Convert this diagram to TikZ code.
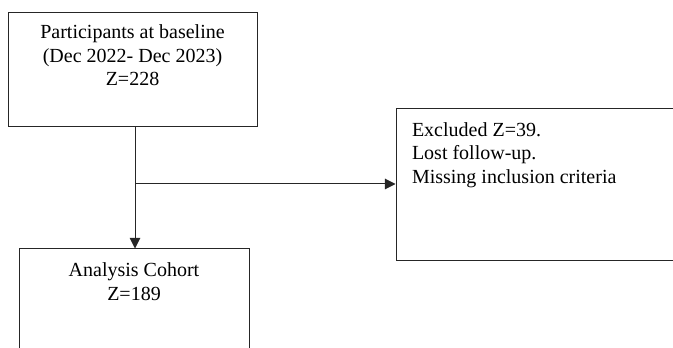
\documentclass[tikz,border=0pt]{standalone}
\usepackage{fontspec}
\setmainfont{Liberation Serif}
\usetikzlibrary{positioning,arrows.meta}
\begin{document}
\begin{tikzpicture}[x=0.75pt,y=-0.75pt,draw=black!85,line width=0.75pt]
	\tikzstyle{box}=[rectangle,draw=black!85,line width=0.75pt,inner sep=0pt]
	\tikzstyle{txt}=[inner sep=0pt,font=\fontsize{15}{17.6}\selectfont]
	\tikzstyle{arr}=[-{Triangle[length=8pt,width=8pt]}]
	\useasboundingbox (0,0) rectangle (673,348);
	\clip (0,0) rectangle (673,348);
	\node[box,minimum width=186.75pt,minimum height=85.5pt] (baseline) at (132.5,70) {};
	\node[box,minimum width=228pt,minimum height=114pt] (excluded) at (548,185) {};
	\node[box,minimum width=172.5pt,minimum height=83.25pt] (cohort) at (134,304.5) {};
	% box texts
	\node[txt,align=center,below=9pt of baseline.north] (baseline-text)
		{Participants at baseline\\(Dec 2022- Dec 2023)\\Z=228};
	\node[txt,align=left,below right=9.9pt and 12pt of excluded.north west] (excluded-text)
		{Excluded Z=39.\\Lost follow-up.\\Missing inclusion criteria};
	\node[txt,align=center,below=10.5pt of cohort.north] (cohort-text)
		{Analysis Cohort\\Z=189};
	\coordinate (split) at (135,184);
	\draw (baseline.south -| split) -- (split);
	\draw[arr] (split) -- (cohort.north -| split);
	\draw[arr] (split) -- (split -| excluded.west);
\end{tikzpicture}
\end{document}
